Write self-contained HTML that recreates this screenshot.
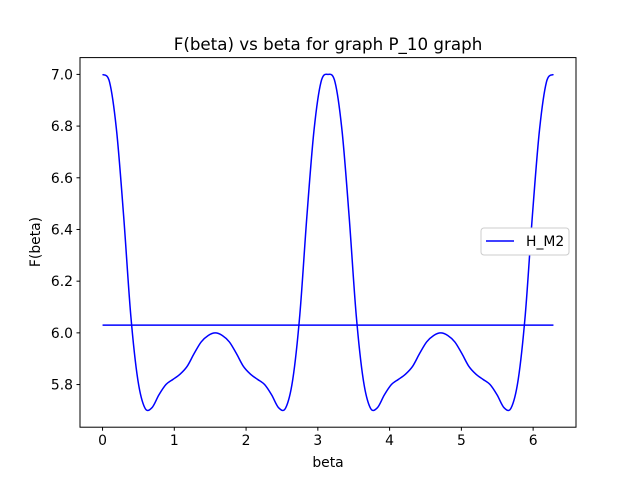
<!DOCTYPE html>
<html><head><meta charset="utf-8"><style>
body{margin:0;background:#fff;}
svg text{font-family:"DejaVu Sans","Liberation Sans",sans-serif;fill:#000;}
</style></head><body>
<svg id="chart" width="640" height="480" xmlns="http://www.w3.org/2000/svg">
<rect width="640" height="480" fill="#fff"/>
<text x="328" y="50" font-size="16.7" text-anchor="middle">F(beta) vs beta for graph P_10 graph</text>
<g id="plot"></g>
<rect x="80" y="57.6" width="496" height="369.6" fill="none" stroke="#000" stroke-width="1"/>
<text x="328" y="467" font-size="13.9" text-anchor="middle">beta</text>
<text transform="translate(40,242) rotate(-90)" font-size="13.9" text-anchor="middle">F(beta)</text>
<g>
<rect x="481" y="228" width="88" height="27" rx="3" fill="#fff" stroke="#ccc"/>
<line x1="486" y1="241" x2="514" y2="241" stroke="#0000ff" stroke-width="1.5"/>
<text x="526" y="246" font-size="13.9">H_M2</text>
</g>
</svg>
<script>
const fValues = [7.0,6.97,6.78,6.45,6.07,5.82,5.71,5.71,5.76,5.80,5.82,5.84,5.87,5.92,5.965,5.99,6.0,
5.99,5.965,5.92,5.87,5.84,5.82,5.80,5.76,5.71,5.71,5.82,6.07,6.45,6.78,6.97,7.0,
6.97,6.78,6.45,6.07,5.82,5.71,5.71,5.76,5.80,5.82,5.84,5.87,5.92,5.965,5.99,6.0,
5.99,5.965,5.92,5.87,5.84,5.82,5.80,5.76,5.71,5.71,5.82,6.07,6.45,6.78,6.97,7.0];
const betaMax = 6.2832;
const meanLevel = [6.03];
const xTicks = [0,1,2,3,4,5,6];
const yTicks = [5.8,6.0,6.2,6.4,6.6,6.8,7.0];
const yTickLabels = ["5.8","6.0","6.2","6.4","6.6","6.8","7.0"];

const L=80,R=576,T=57.6,B=427.2;
const xmin=-0.05*betaMax, xmax=betaMax*1.05;
const ymin=5.635, ymax=7.065;
const sx=v=>L+(v-xmin)/(xmax-xmin)*(R-L);
const sy=v=>B-(v-ymin)/(ymax-ymin)*(B-T);
const NS="http://www.w3.org/2000/svg";
const g=document.getElementById('plot');
function mk(t,a){const e=document.createElementNS(NS,t);for(const k in a)e.setAttribute(k,a[k]);g.appendChild(e);return e;}
xTicks.forEach(v=>{
  const l=mk('line',{x1:sx(v),x2:sx(v),y1:B,y2:B+3.5,stroke:'#000'});
  
  
  const t=mk('text',{x:sx(v),y:B+18,'font-size':13.9,'text-anchor':'middle'});
  t.textContent=String(v);
  
  
});
yTicks.forEach((v,i)=>{
  const l=mk('line',{x1:L-3.5,x2:L,y1:sy(v),y2:sy(v),stroke:'#000'});
  
  
  const t=mk('text',{x:L-7,y:sy(v)+5,'font-size':13.9,'text-anchor':'end'});
  t.textContent=yTickLabels[i];
  
  
});
const n=fValues.length;
const pts=fValues.map((v,i)=>[sx(i*betaMax/(n-1)),sy(v)]);
let d='M'+pts[0][0]+','+pts[0][1];
for(let i=0;i<n-1;i++){
  const p0=pts[Math.max(i-1,0)],p1=pts[i],p2=pts[i+1],p3=pts[Math.min(i+2,n-1)];
  d+=' C'+(p1[0]+(p2[0]-p0[0])/6)+','+(p1[1]+(p2[1]-p0[1])/6)+' '+(p2[0]-(p3[0]-p1[0])/6)+','+(p2[1]-(p3[1]-p1[1])/6)+' '+p2[0]+','+p2[1];
}
const c=mk('path',{d:d,fill:'none',stroke:'#0000ff','stroke-width':1.5});


const h=mk('line',{x1:sx(0),x2:sx(betaMax),y1:sy(meanLevel[0]),y2:sy(meanLevel[0]),stroke:'#0000ff','stroke-width':1.5});


</script>
</body></html>
